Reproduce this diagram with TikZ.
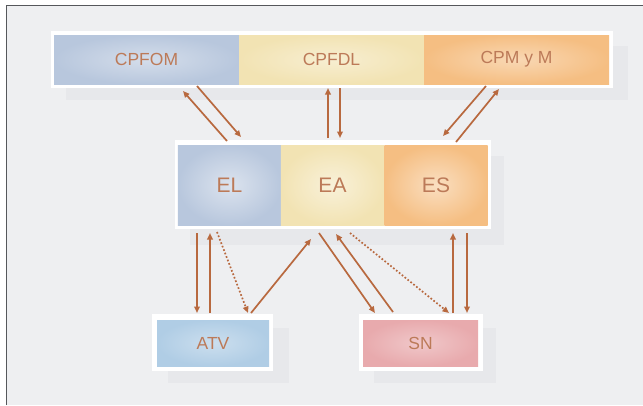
\documentclass[tikz,border=0pt]{standalone}
\usepackage{fontspec}
\setmainfont{Liberation Sans}
\usepackage{tikz}
\usetikzlibrary{arrows.meta,calc}
\definecolor{paper}{HTML}{EEEFF1}
\definecolor{rule}{HTML}{55575B}
\definecolor{shade}{HTML}{E7E8EB}
\definecolor{blue}{HTML}{B8C7DD}
\definecolor{sand}{HTML}{F2E3B3}
\definecolor{peach}{HTML}{F5BE82}
\definecolor{sky}{HTML}{B0CDE5}
\definecolor{rose}{HTML}{E8AAAD}
\definecolor{rust}{HTML}{B8693F}
\definecolor{label}{HTML}{BC7A58}

\begin{document}
\begin{tikzpicture}[
  x=1pt,y=-1pt,
  every node/.style={font=\fontsize{17.5}{18}\selectfont,text=label,inner sep=0pt,outer sep=0pt},
  seg/.style={rectangle,minimum width=185,minimum height=49,inner color=#1!60!white,outer color=#1},
  part/.style={rectangle,minimum width=103.3,minimum height=80,inner color=#1!50!white,outer color=#1,
    font=\fontsize{21}{22}\selectfont},
  leaf/.style={rectangle,minimum height=46,inner color=#1!65!white,outer color=#1},
  frame/.style={rectangle,fill=white},
  shadow/.style={fill=shade},
  link/.style={line width=1.7pt,color=rust,-{Triangle[length=6.5pt,width=5.5pt]}},
  hint/.style={link,dotted}
]
\useasboundingbox (0,0) rectangle (643,405);
\fill[white] (0,0) rectangle (643,405);
\fill[paper] (6,5) rectangle (643,405);
\draw[rule,line width=1pt] (6,405) -- (6,5) -- (643,5);

\fill[shadow] (66,46) rectangle (628,100);
\fill[shadow] (190,156) rectangle (504,245);
\fill[shadow] (168,328) rectangle (289,383);
\fill[shadow] (374,328) rectangle (496,383);

\node[frame,minimum width=562,minimum height=57] (top) at (332,59.5) {};
\node[frame,minimum width=316,minimum height=89] (mid) at (332.5,184.5) {};
\node[frame,minimum width=121,minimum height=57] (left) at (212.5,342.5) {};
\node[frame,minimum width=124,minimum height=57] (right) at (421,342.5) {};

\node[seg=blue] (CPFOM) at (146.5,59.5) {CPFOM};
\node[seg=sand] (CPFDL) at (331.5,59.5) {CPFDL};
\node[seg=peach] (CPMyM) at (516.5,59.5) {CPM y M};

\node[part=blue] (EL) at (229.5,185) {EL};
\node[part=sand] (EA) at (332.5,185) {EA};
\node[part=peach] (ES) at (436,185) {ES};

\node[leaf=sky,minimum width=112] (ATV) at (213,343) {ATV};
\node[leaf=rose,minimum width=115] (SN) at (420.5,343) {SN};

\draw[link] ($(CPFOM.south)+(50.5,2)$) -- ($(EL.north)+(11.5,-8)$);
\draw[link] ($(EL.north)+(-2.5,-4)$) -- ($(CPFOM.south)+(36.5,7)$);
\draw[link] ($(EA.north)+(-4.5,-7)$) -- ($(CPFDL.south)+(-3.5,4)$);
\draw[link] ($(CPFDL.south)+(8.5,4)$) -- ($(EA.north)+(7.5,-7)$);
\draw[link] ($(CPMyM.south)+(-30.5,2)$) -- ($(ES.north)+(7,-9)$);
\draw[link] ($(ES.north)+(20,-3)$) -- ($(CPMyM.south)+(-17.5,5)$);

\draw[link] ($(EL.south)+(-32.5,8)$) -- ($(ATV.north)+(-16,-7)$);
\draw[link] ($(ATV.north)+(-3,-7)$) -- ($(EL.south)+(-19.5,8)$);
\draw[hint] ($(EL.south)+(-12.5,7)$) -- ($(ATV.north)+(35,-7)$);
\draw[link] ($(ATV.north)+(38,-7)$) -- ($(EA.south)+(-21.5,14)$);

\draw[link] ($(EA.south)+(-13.5,8)$) -- ($(SN.north)+(-45.5,-7)$);
\draw[link] ($(SN.north)+(-27.5,-8)$) -- ($(EA.south)+(3.5,9)$);
\draw[hint] ($(EA.south)+(17.5,8)$) -- ($(SN.north)+(28.5,-7)$);
\draw[link] ($(SN.north)+(32.5,-7)$) -- ($(ES.south)+(17,8)$);
\draw[link] ($(ES.south)+(31,8)$) -- ($(SN.north)+(46.5,-7)$);
\end{tikzpicture}
\end{document}
